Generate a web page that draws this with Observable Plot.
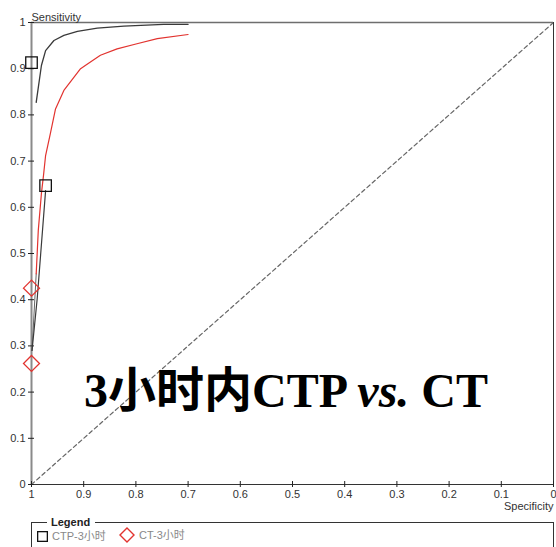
<!DOCTYPE html>
<html>
<head>
<meta charset="utf-8">
<script src="https://cdn.jsdelivr.net/npm/d3@7"></script>
<script src="https://cdn.jsdelivr.net/npm/@observablehq/plot@0.6"></script>
<style>
  body { margin: 0; background: #fff; }
  #wrap { position: relative; width: 556px; height: 547px; overflow: hidden;
          font-family: "Liberation Sans", Arial, "Noto Sans CJK SC", sans-serif; }
  #chart { position: absolute; left: 0; top: 0; }
  #title { position: absolute; left: 84px; top: 367px; white-space: nowrap;
           font-family: "Liberation Serif", "Times New Roman", "Noto Sans CJK SC", serif;
           font-weight: bold; font-size: 48px; line-height: 48px; color: #000; }
  #title i { font-style: italic; }
  #legend { position: absolute; left: 31px; top: 522px; width: 521px; height: 40px;
            border: 1px solid #333; border-bottom: none; }
  #legend .head { position: absolute; left: 15px; top: -8px; background: #fff; padding: 0 5px 0 4px;
                  font-weight: bold; font-size: 11px; line-height: 14px; color: #222; }
  #legend .item { position: absolute; top: 6px; font-size: 11px; line-height: 14px; color: #888;
                  display: flex; align-items: center; white-space: nowrap; }
  #legend svg { display: block; margin-right: 4px; }
</style>
</head>
<body>
<div id="wrap">
  <div id="chart"></div>
  <div id="title"></div>
  <div id="legend"></div>
</div>
<script>
// ---- data ----
const tickValues = [0, 0.1, 0.2, 0.3, 0.4, 0.5, 0.6, 0.7, 0.8, 0.9, 1];
const tickLabels = ["0", "0.1", "0.2", "0.3", "0.4", "0.5", "0.6", "0.7", "0.8", "0.9", "1"];

const seriesNames = ["CTP-3小时", "CT-3小时"];

// CTP curve (upper part)
const ctpSpec = [0.991, 0.981, 0.973, 0.957, 0.938, 0.912, 0.874, 0.823, 0.747, 0.700];
const ctpSens = [0.827, 0.907, 0.939, 0.961, 0.972, 0.981, 0.988, 0.992, 0.996, 0.996];
// CTP curve (lower part)
const ctpLowSpec = [0.999, 0.989, 0.973];
const ctpLowSens = [0.290, 0.403, 0.636];

// CT curve
const ctSpec = [0.991, 0.987, 0.981, 0.977, 0.973, 0.964, 0.954, 0.938, 0.906, 0.897, 0.868, 0.836, 0.798, 0.759, 0.700];
const ctSens = [0.456, 0.550, 0.630, 0.669, 0.712, 0.759, 0.813, 0.853, 0.900, 0.907, 0.929, 0.943, 0.954, 0.965, 0.974];
// CT curve (lower part)
const ctLowSpec = [0.999, 0.991];
const ctLowSens = [0.290, 0.456];

// cut-off markers
const ctpCutSpec = [1, 0.973];
const ctpCutSens = [0.913, 0.647];
const ctCutSpec = [1, 1];
const ctCutSens = [0.425, 0.262];

// reference diagonal
const refSpec = [1, 0];
const refSens = [0, 1];

const titleParts = ["3小时内CTP ", "vs.", " CT"];
const xLabel = "Specificity";
const yLabel = "Sensitivity";
const legendTitle = "Legend";

// ---- build tables ----
const pts = (spec, sens) => spec.map((s, i) => ({spec: s, sens: sens[i]}));
const fmt = d => tickLabels[tickValues.indexOf(d)];

const RED = "#e2332f";
const DARK = "#3a3a3a";
const FONT = '"Liberation Sans", Arial, sans-serif';

const plot = Plot.plot({
  width: 556,
  height: 515,
  marginLeft: 31,
  marginRight: 3,
  marginTop: 22,
  marginBottom: 31,
  style: {fontFamily: FONT, fontSize: "11px", color: "#333", background: "transparent", overflow: "visible"},
  x: {domain: [1, 0], label: null},
  y: {domain: [0, 1], label: null},
  marks: [
    Plot.line(pts(refSpec, refSens), {x: "spec", y: "sens", stroke: "#666", strokeWidth: 1.2, strokeDasharray: "4,3"}),
    Plot.ruleY([1], {stroke: "#6e6e6e", strokeWidth: 1.5}),
    Plot.ruleX([0], {stroke: "#333", strokeWidth: 1}),
    Plot.ruleY([0], {stroke: "#333", strokeWidth: 1}),
    Plot.ruleX([1], {stroke: "#8a8a8a", strokeWidth: 2}),
    Plot.axisX({ticks: tickValues, tickSize: 6, dy: -3, fill: "none", stroke: "#222", label: null}),
    Plot.axisX({ticks: tickValues, tickSize: 0, tickPadding: 6, tickFormat: fmt, fill: "#333", label: null}),
    Plot.axisY({ticks: tickValues, tickSize: 6, dx: 3, fill: "none", stroke: "#222", label: null}),
    Plot.axisY({ticks: tickValues, tickSize: 0, tickPadding: 6, tickFormat: fmt, fill: "#333", label: null}),
    Plot.text([yLabel], {text: d => d, frameAnchor: "top-left", textAnchor: "start", dy: -9, fill: "#333"}),
    Plot.text([xLabel], {text: d => d, frameAnchor: "bottom-right", textAnchor: "end", dy: 25, fill: "#333"}),
    Plot.line(pts(ctLowSpec, ctLowSens), {x: "spec", y: "sens", stroke: "#666", strokeWidth: 1}),
    Plot.line(pts(ctpLowSpec, ctpLowSens), {x: "spec", y: "sens", stroke: DARK, strokeWidth: 1.2}),
    Plot.line(pts(ctSpec, ctSens), {x: "spec", y: "sens", stroke: RED, strokeWidth: 1.2}),
    Plot.line(pts(ctpSpec, ctpSens), {x: "spec", y: "sens", stroke: DARK, strokeWidth: 1.3}),
    Plot.dot(pts(ctpCutSpec, ctpCutSens), {x: "spec", y: "sens", symbol: "square", r: 6.5, fill: "none", stroke: "#111", strokeWidth: 1.3}),
    Plot.dot(pts(ctCutSpec, ctCutSens), {x: "spec", y: "sens", symbol: "diamond2", r: 7.2, fill: "none", stroke: RED, strokeWidth: 1.3})
  ]
});
document.getElementById("chart").appendChild(plot);

// title
const t = document.getElementById("title");
t.appendChild(document.createTextNode(titleParts[0]));
const it = document.createElement("i");
it.textContent = titleParts[1];
t.appendChild(it);
t.appendChild(document.createTextNode(titleParts[2]));

// legend
const lg = document.getElementById("legend");
const head = document.createElement("div");
head.className = "head";
head.textContent = legendTitle;
lg.appendChild(head);
const icons = [
  '<svg width="11" height="11"><rect x="0.65" y="0.65" width="9.7" height="9.7" fill="none" stroke="#111" stroke-width="1.3"/></svg>',
  '<svg width="16" height="16"><path d="M8,1 L15,8 L8,15 L1,8 Z" fill="none" stroke="' + RED + '" stroke-width="1.4"/></svg>'
];
const lefts = [5, 87];
seriesNames.forEach((name, i) => {
  const d = document.createElement("div");
  d.className = "item";
  d.style.left = lefts[i] + "px";
  if (i === 1) d.style.top = "4px";
  d.innerHTML = icons[i];
  const s = document.createElement("span");
  s.textContent = name;
  d.appendChild(s);
  lg.appendChild(d);
});
</script>
</body>
</html>
